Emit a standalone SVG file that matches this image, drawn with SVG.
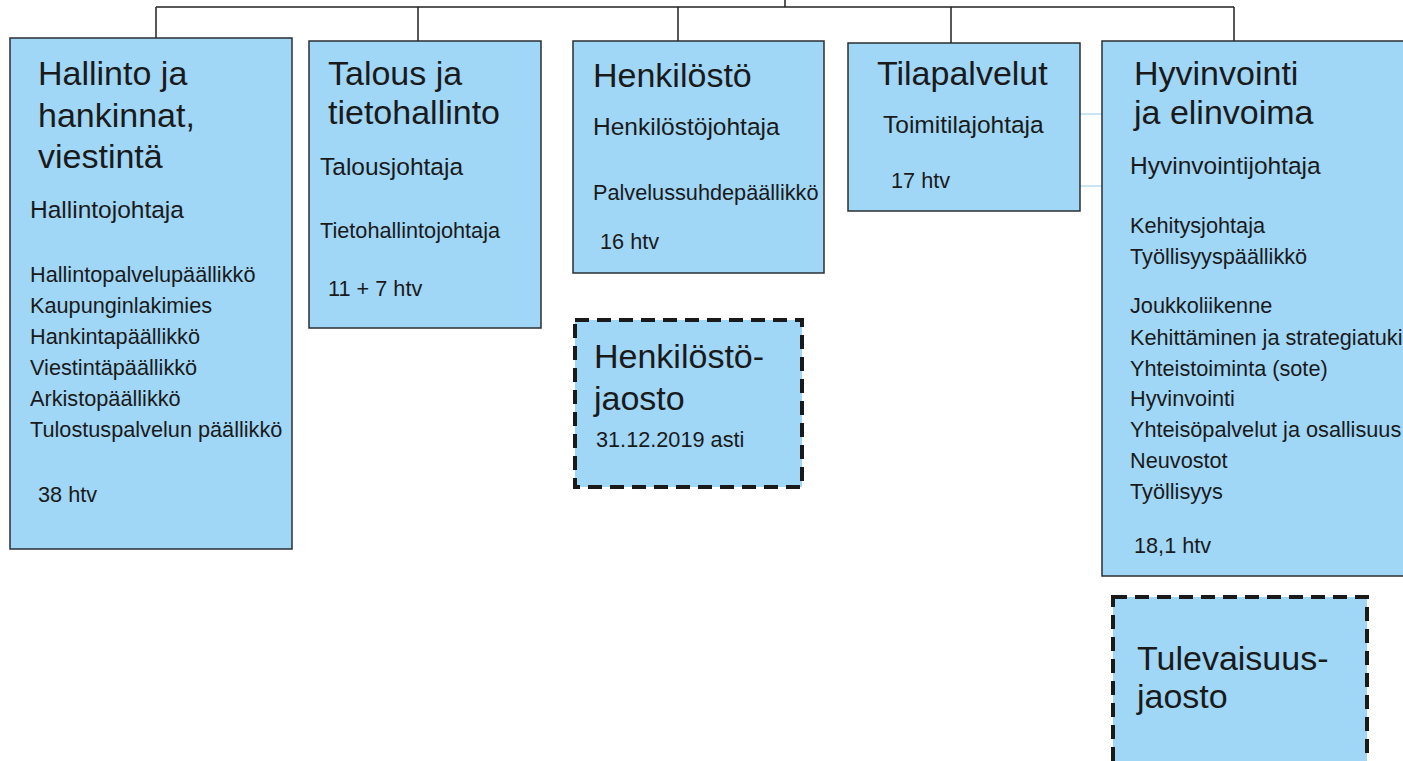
<svg xmlns="http://www.w3.org/2000/svg" width="1403" height="761" viewBox="0 0 1403 761">
<style>
.box{fill:#a0d6f6;stroke:#2a2f33;stroke-width:1.5}
.dbox{fill:#a0d6f6;stroke:#1a1a1a;stroke-width:4;stroke-dasharray:14 8}
.con{fill:none;stroke:#222;stroke-width:1.5}
.lcon{fill:none;stroke:#b8dcf0;stroke-width:1.5}
text{font-family:"Liberation Sans",Arial,sans-serif;fill:#1a1a1a}
.t{font-size:34px}
.s{font-size:24.5px}
.i{font-size:21.7px}
</style>
<rect width="1403" height="761" fill="#fff"/>
<g id="connectors">
<path class="con" d="M785 0V7M156 7H1234M156 7V38M418 7V41M678 7V41M951 7V43M1234 7V41"/>
<path class="lcon" d="M1080 114H1102M1080 186H1102"/>
</g>
<g id="hallinto">
<rect class="box" x="10" y="38" width="282" height="511"/>
<text class="t" x="38" y="85">Hallinto ja</text>
<text class="t" x="38" y="127">hankinnat,</text>
<text class="t" x="38" y="168">viestintä</text>
<text class="s" x="30" y="218">Hallintojohtaja</text>
<text class="i" x="30" y="282">Hallintopalvelupäällikkö</text>
<text class="i" x="30" y="313">Kaupunginlakimies</text>
<text class="i" x="30" y="344">Hankintapäällikkö</text>
<text class="i" x="30" y="375">Viestintäpäällikkö</text>
<text class="i" x="30" y="406">Arkistopäällikkö</text>
<text class="i" x="30" y="437">Tulostuspalvelun päällikkö</text>
<text class="i" x="38" y="502">38 htv</text>
</g>
<g id="talous">
<rect class="box" x="309" y="41" width="232" height="287"/>
<text class="t" x="328" y="85">Talous ja</text>
<text class="t" x="328" y="124">tietohallinto</text>
<text class="s" x="320" y="175">Talousjohtaja</text>
<text class="i" x="320" y="238">Tietohallintojohtaja</text>
<text class="i" x="328" y="296">11 + 7 htv</text>
</g>
<g id="henkilosto">
<rect class="box" x="573" y="41" width="251" height="232"/>
<text class="t" x="593" y="87">Henkilöstö</text>
<text class="s" x="593" y="135">Henkilöstöjohtaja</text>
<text class="i" x="593" y="200">Palvelussuhdepäällikkö</text>
<text class="i" x="600" y="249">16 htv</text>
</g>
<g id="tilapalvelut">
<rect class="box" x="848" y="43" width="232" height="168"/>
<text class="t" x="877" y="85">Tilapalvelut</text>
<text class="s" x="883" y="133">Toimitilajohtaja</text>
<text class="i" x="891" y="188">17 htv</text>
</g>
<g id="hyvinvointi">
<rect class="box" x="1102" y="41" width="310" height="535"/>
<text class="t" x="1134" y="85">Hyvinvointi</text>
<text class="t" x="1134" y="124">ja elinvoima</text>
<text class="s" x="1130" y="174">Hyvinvointijohtaja</text>
<text class="i" x="1130" y="233">Kehitysjohtaja</text>
<text class="i" x="1130" y="264">Työllisyyspäällikkö</text>
<text class="i" x="1130" y="313">Joukkoliikenne</text>
<text class="i" x="1130" y="345">Kehittäminen ja strategiatuki</text>
<text class="i" x="1130" y="376">Yhteistoiminta (sote)</text>
<text class="i" x="1130" y="406">Hyvinvointi</text>
<text class="i" x="1130" y="437">Yhteisöpalvelut ja osallisuus</text>
<text class="i" x="1130" y="468">Neuvostot</text>
<text class="i" x="1130" y="499">Työllisyys</text>
<text class="i" x="1134" y="553">18,1 htv</text>
</g>
<g id="henkilostojaosto">
<rect class="dbox" x="575" y="320" width="227" height="167"/>
<text class="t" x="594" y="368">Henkilöstö-</text>
<text class="t" x="594" y="410">jaosto</text>
<text class="i" x="596" y="447">31.12.2019 asti</text>
</g>
<g id="tulevaisuusjaosto">
<rect class="dbox" x="1113" y="597" width="254" height="180"/>
<text class="t" x="1137" y="670">Tulevaisuus-</text>
<text class="t" x="1137" y="708">jaosto</text>
</g>
</svg>
